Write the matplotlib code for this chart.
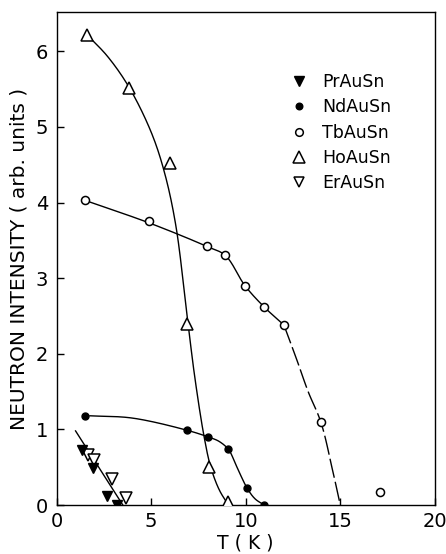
import numpy as np
import matplotlib
matplotlib.use("Agg")
import matplotlib.pyplot as plt

# measured intensities
pr_T = [1.35, 1.92, 2.65, 3.2]
pr_I = [0.73, 0.49, 0.12, 0.0]

nd_T = [1.5, 6.88, 8.02, 9.08, 10.08, 10.98]
nd_I = [1.18, 0.99, 0.90, 0.74, 0.22, 0.0]

tb_T = [1.51, 4.9, 7.94, 8.92, 9.96, 10.97, 12.02, 13.98, 17.1]
tb_I = [4.03, 3.76, 3.42, 3.31, 2.90, 2.62, 2.38, 1.10, 0.17]

ho_T = [1.59, 3.83, 5.98, 6.88, 8.07, 9.08]
ho_I = [6.22, 5.52, 4.52, 2.40, 0.50, 0.04]

er_T = [1.67, 1.99, 2.91, 3.67]
er_I = [0.66, 0.60, 0.34, 0.09]

# guide-to-the-eye curves (knots along the drawn lines)
ho_fit_T = [1.6, 2.7, 3.84, 5.0, 5.7, 6.3, 6.9, 7.3, 7.8, 8.15, 8.6, 9.08]
ho_fit_I = [6.22, 5.93, 5.52, 4.93, 4.4, 3.7, 2.5, 1.7, 0.9, 0.5, 0.2, 0.0]

tb_fit_T = [1.6, 4.9, 7.94, 8.92, 9.96, 10.97, 12.02]
tb_fit_I = [4.02, 3.73, 3.42, 3.30, 2.90, 2.62, 2.38]
tb_tail_T = [12.02, 12.7, 13.3, 13.98, 14.6, 15.0]
tb_tail_I = [2.38, 1.92, 1.50, 1.09, 0.45, 0.0]

nd_fit_T = [1.76, 4.0, 6.88, 8.02, 8.6, 9.1, 9.5, 10.08, 10.5, 10.98]
nd_fit_I = [1.18, 1.15, 0.99, 0.90, 0.84, 0.73, 0.52, 0.22, 0.08, 0.0]

prer_fit_T = [1.0, 3.5]
prer_fit_I = [0.98, 0.0]

YSCALE = 4.0  # y units are ~4x longer on screen than x units


def smooth(xs, ys, n=24):
    """centripetal Catmull-Rom spline through the knots"""
    p = np.column_stack([xs, np.asarray(ys) * YSCALE]).astype(float)
    if len(p) < 3:
        return p[:, 0], p[:, 1] / YSCALE
    p = np.vstack([2 * p[0] - p[1], p, 2 * p[-1] - p[-2]])
    out = []
    for i in range(1, len(p) - 2):
        p0, p1, p2, p3 = p[i - 1], p[i], p[i + 1], p[i + 2]
        t0 = 0.0
        t1 = t0 + np.linalg.norm(p1 - p0) ** 0.5
        t2 = t1 + np.linalg.norm(p2 - p1) ** 0.5
        t3 = t2 + np.linalg.norm(p3 - p2) ** 0.5
        t = np.linspace(t1, t2, n, endpoint=False)[:, None]
        a1 = (t1 - t) / (t1 - t0) * p0 + (t - t0) / (t1 - t0) * p1
        a2 = (t2 - t) / (t2 - t1) * p1 + (t - t1) / (t2 - t1) * p2
        a3 = (t3 - t) / (t3 - t2) * p2 + (t - t2) / (t3 - t2) * p3
        b1 = (t2 - t) / (t2 - t0) * a1 + (t - t0) / (t2 - t0) * a2
        b2 = (t3 - t) / (t3 - t1) * a2 + (t - t1) / (t3 - t1) * a3
        out.append((t2 - t) / (t2 - t1) * b1 + (t - t1) / (t2 - t1) * b2)
    out.append(p[-2][None, :])
    out = np.vstack(out)
    return out[:, 0], out[:, 1] / YSCALE


plt.rcParams['font.family'] = ['DejaVu Sans']

fig = plt.figure(figsize=(4.46, 5.54), dpi=100)
ax = fig.add_axes([0.127, 0.0884, 0.848, 0.890])

lw = 1.0
ax.plot(*smooth(ho_fit_T, ho_fit_I), color='black', lw=lw, zorder=2)
ax.plot(*smooth(tb_fit_T, tb_fit_I), color='black', lw=lw, zorder=2)
ax.plot(*smooth(tb_tail_T, tb_tail_I), color='black', lw=lw, zorder=2,
        dashes=(14, 3))
ax.plot(*smooth(nd_fit_T, nd_fit_I), color='black', lw=lw, zorder=2)
ax.plot(prer_fit_T, prer_fit_I, color='black', lw=lw, zorder=2)

ax.plot(pr_T, pr_I, 'v', ms=7, mfc='black', mec='black', ls='none', label='PrAuSn', zorder=4)
ax.plot(nd_T, nd_I, 'o', ms=5, mfc='black', mec='black', ls='none', label='NdAuSn', zorder=4)
ax.plot(tb_T, tb_I, 'o', ms=5.8, mfc='white', mec='black', mew=1.1, ls='none', label='TbAuSn', zorder=4)
ax.plot(ho_T, ho_I, '^', ms=8.5, mfc='white', mec='black', mew=1.1, ls='none', label='HoAuSn', zorder=4)
ax.plot(er_T, er_I, 'v', ms=8, mfc='white', mec='black', mew=1.1, ls='none', label='ErAuSn', zorder=3)

ax.set_xlim(0, 20)
ax.set_ylim(0, 6.52)
ax.set_xticks([0, 5, 10, 15, 20])
ax.set_yticks([0, 1, 2, 3, 4, 5, 6])
ax.tick_params(direction='in', length=5, width=1, labelsize=14,
               top=False, right=False)
ax.tick_params(axis='y', pad=6)
ax.tick_params(axis='x', pad=5)
for s in ax.spines.values():
    s.set_linewidth(1.0)

ax.set_xlabel('T ( K )', fontsize=13.5, labelpad=2)
ax.set_ylabel('NEUTRON INTENSITY ( arb. units )', fontsize=14.5, labelpad=5)

ax.legend(loc='upper left', bbox_to_anchor=(0.6, 0.89), frameon=False, fontsize=12.5,
          handletextpad=0.8, labelspacing=0.42, handlelength=1.0, markerscale=0.95,
          borderaxespad=0)

fig.savefig('out.png', dpi=100)
